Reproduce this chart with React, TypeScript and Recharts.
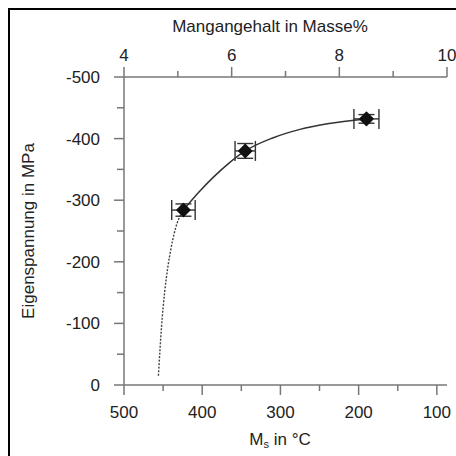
import React from 'react'
import { ComposedChart, XAxis, YAxis, Line, Scatter, ErrorBar } from 'recharts'

// measured points: Ms (°C), Mn content (mass-%), residual stress (MPa), errors
const msValues = [424, 345, 190]
const mnValues = [5.1, 6.25, 8.5]
const stressValues = [-284, -380, -432]
const msErr = [15, 13, 16]
const stressErr = [10, 12, 7]

// fitted curve
const dottedMs = [456, 452, 448, 444, 440, 436, 432, 428, 424]
const dottedStress = [-15, -95, -151, -191, -221, -245, -263, -275, -284]
const solidMs = [424, 405, 386, 365, 345, 310, 275, 240, 190]
const solidStress = [-284, -312, -337, -361, -380, -401, -415, -424, -432]

const msTicks = [500, 450, 400, 350, 300, 250, 200, 150, 100]
const mnTicks = [4, 5, 6, 7, 8, 9, 10]
const stressTicks = [-500, -450, -400, -350, -300, -250, -200, -150, -100, -50, 0]

const points = msValues.map((ms, i) => ({ ms, s: stressValues[i], ex: msErr[i], ey: stressErr[i] }))
const mnPoints = mnValues.map((mn, i) => ({ mn, s: stressValues[i] }))
const dotted = dottedMs.map((ms, i) => ({ ms, s: dottedStress[i] }))
const solid = solidMs.map((ms, i) => ({ ms, s: solidStress[i] }))

const FONT = '"Liberation Sans", Arial, sans-serif'
const AXIS = '#777'
const TXT = '#222'

function BottomTick({ x, y, payload }: any) {
  const major = payload.value % 100 === 0
  return (
    <g>
      <line x1={x} x2={x} y1={y} y2={y + (major ? 10 : 6)} stroke={AXIS} strokeWidth={1.5} />
      {major && (
        <text x={x} y={y + 33} textAnchor="middle" fontSize={17} fill={TXT} fontFamily={FONT}>
          {payload.value}
        </text>
      )}
    </g>
  )
}

function TopTick({ x, y, payload }: any) {
  const major = payload.value % 2 === 0
  return (
    <g>
      <line x1={x} x2={x} y1={y} y2={y - (major ? 10 : 6)} stroke={AXIS} strokeWidth={1.5} />
      {major && (
        <text x={x} y={y - 16} textAnchor="middle" fontSize={17} fill={TXT} fontFamily={FONT}>
          {payload.value}
        </text>
      )}
    </g>
  )
}

function LeftTick({ x, y, payload }: any) {
  const major = payload.value % 100 === 0
  return (
    <g>
      <line x1={x - (major ? 10 : 7)} x2={x} y1={y} y2={y} stroke={AXIS} strokeWidth={1.5} />
      {major && (
        <text x={x - 24} y={y + 6} textAnchor="end" fontSize={17} fill={TXT} fontFamily={FONT}>
          {payload.value}
        </text>
      )}
    </g>
  )
}

// filled diamond marker
const Dot = ({ cx, cy }: any) => (
  <polygon
    points={`${cx},${cy - 6.5} ${cx + 6.5},${cy} ${cx},${cy + 6.5} ${cx - 6.5},${cy}`}
    fill="#111"
    stroke="#111"
    strokeWidth={1.5}
    strokeLinejoin="round"
  />
)
const NoDot = () => <g />

export default function App() {
  return (
    <div style={{ position: 'absolute', left: 0, top: 0, width: 456, height: 456, background: '#fff', overflow: 'hidden', fontFamily: FONT }}>
      <div style={{ position: 'absolute', left: 8, top: 8, width: 460, height: 460, borderLeft: '2.5px solid #000', borderTop: '2.5px solid #000' }} />
      <div style={{ position: 'absolute', left: 0, top: 0 }}>
        <ComposedChart width={456} height={456} margin={{ top: 0, right: 9, bottom: 0, left: 0 }}>
          <XAxis
            xAxisId="ms"
            dataKey="ms"
            type="number"
            domain={[87, 500]}
            reversed
            allowDataOverflow
            ticks={msTicks}
            interval={0}
            height={71}
            tickSize={0}
            tickMargin={0}
            tickLine={false}
            axisLine={{ stroke: AXIS, strokeWidth: 1.5 }}
            tick={<BottomTick />}
          />
          <XAxis
            xAxisId="mn"
            dataKey="mn"
            orientation="top"
            type="number"
            domain={[4, 10]}
            allowDataOverflow
            ticks={mnTicks}
            interval={0}
            height={77}
            tickSize={0}
            tickMargin={0}
            tickLine={false}
            axisLine={{ stroke: AXIS, strokeWidth: 1.5 }}
            tick={<TopTick />}
          />
          <YAxis
            type="number"
            domain={[-500, 0]}
            reversed
            allowDataOverflow
            ticks={stressTicks}
            interval={0}
            width={124}
            tickSize={0}
            tickMargin={0}
            tickLine={false}
            axisLine={{ stroke: AXIS, strokeWidth: 1.5 }}
            tick={<LeftTick />}
          />
          <Scatter xAxisId="mn" data={mnPoints} dataKey="s" shape={<NoDot />} isAnimationActive={false} />
          <Line
            xAxisId="ms"
            data={dotted}
            dataKey="s"
            type="monotone"
            stroke="#444"
            strokeWidth={1.4}
            strokeDasharray="2 1.5"
            dot={false}
            isAnimationActive={false}
          />
          <Line
            xAxisId="ms"
            data={solid}
            dataKey="s"
            type="monotone"
            stroke="#333"
            strokeWidth={1.5}
            dot={false}
            isAnimationActive={false}
          />
          <Scatter xAxisId="ms" data={points} dataKey="s" shape={<Dot />} isAnimationActive={false}>
            <ErrorBar dataKey="ex" direction="x" width={10} stroke="#333" strokeWidth={1.4} />
            <ErrorBar dataKey="ey" direction="y" width={8} stroke="#333" strokeWidth={1.4} />
          </Scatter>
        </ComposedChart>
      </div>
      <div style={{ position: 'absolute', left: 270, top: 17, transform: 'translateX(-50%)', whiteSpace: 'nowrap', fontSize: 17, color: TXT }}>
        Mangangehalt in Masse%
      </div>
      <div style={{ position: 'absolute', left: 280, top: 430, transform: 'translateX(-50%)', whiteSpace: 'nowrap', fontSize: 17, color: TXT }}>
        M<sub style={{ fontSize: 11, verticalAlign: -3 }}>s</sub> in °C
      </div>
      <div style={{ position: 'absolute', left: 29, top: 231, transform: 'translate(-50%, -50%) rotate(-90deg)', whiteSpace: 'nowrap', fontSize: 17, color: TXT }}>
        Eigenspannung in MPa
      </div>
    </div>
  )
}
